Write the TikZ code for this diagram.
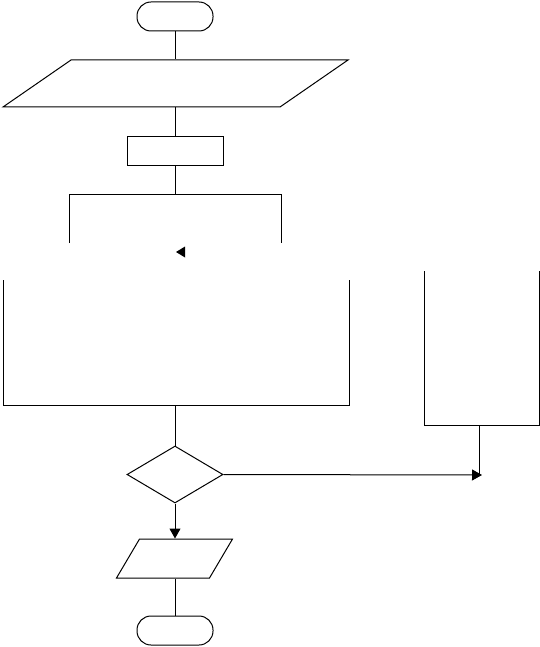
\documentclass[tikz,border=0pt]{standalone}
\usetikzlibrary{shapes.geometric,arrows.meta}
\begin{document}
\begin{tikzpicture}[x=1pt,y=-1pt,line width=1pt,
  term/.style={draw,rounded corners=14pt,minimum width=76pt,minimum height=29pt,inner sep=0pt},
  io/.style={draw,minimum height=#1,inner sep=0pt},
  proc/.style={draw,minimum width=96pt,minimum height=29pt,inner sep=0pt},
  dec/.style={draw,diamond,minimum width=96pt,minimum height=57pt,inner sep=0pt},
  arr/.style={-{Triangle[length=10pt,width=11pt]}}]
\useasboundingbox (0,0) rectangle (540,647);
% nodes
\node[term] (start) at (175,16.5) {};
\node[io=47pt,minimum width=277pt,xslant=1.447] (in) at (175.5,83.5) {};
\node[proc] (init) at (175,151.5) {};
\node[dec] (cond) at (175,474.5) {};
\node[io=39pt,minimum width=93pt,xslant=0.59] (out) at (174.5,558.5) {};
\node[term] (stop) at (175,630.5) {};
% brackets
\coordinate (b1) at (175,194);
\draw (69,243) -- (69,194) -- (281,194) -- (281,243);
\coordinate (b2) at (175,405);
\draw (3,280) -- (3,405) -- (349,405) -- (349,280);
\coordinate (b3) at (479,425);
\draw (424,271) -- (424,425) -- (539,425) -- (539,271);
\coordinate (tip) at (482,475);
% orphan arrowhead
\fill (176,252) -- (185,246.5) -- (185,257.5) -- cycle;
% connectors
\draw (start.south) -- (start.south |- in.north);
\draw (init.north |- in.south) -- (init.north);
\draw (init.south) -- (b1);
\draw (b2) -- (cond.north);
\draw[arr] (cond.south) -- (cond.south |- out.north);
\draw (stop.north |- out.south) -- (stop.north);
\draw[arr] (cond.east) -- (tip);
\draw (b3) -- (b3 |- cond.east);
\end{tikzpicture}
\end{document}
